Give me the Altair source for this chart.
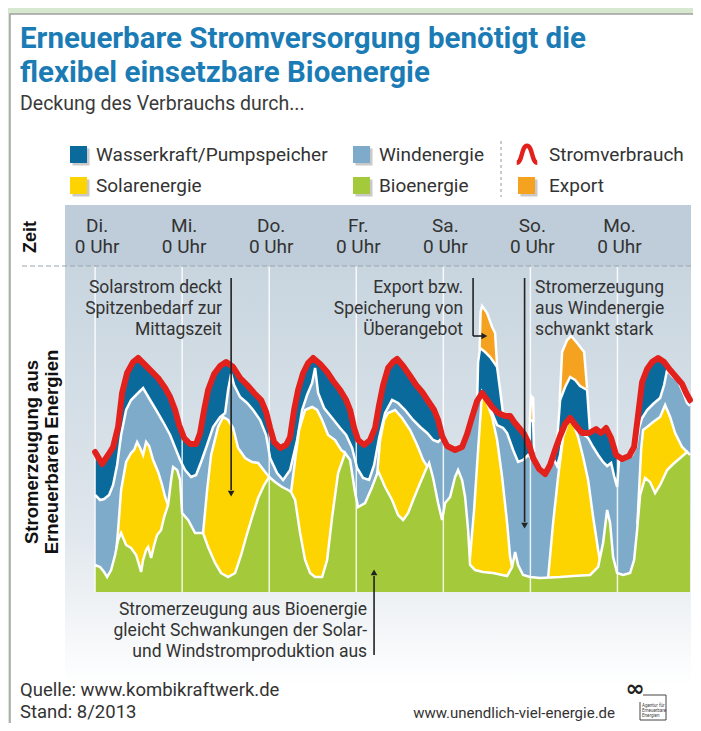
import altair as alt
import pandas as pd

# ---------------- data (hours since Tuesday 0:00, GW) ----------------
tage = ["Di.", "Mi.", "Do.", "Fr.", "Sa.", "So.", "Mo."]
tage_h = [0, 24, 48, 72, 96, 120, 144]

verbrauch_h = [0.0, 1.93, 3.58, 4.96, 6.34, 7.44, 8.82, 10.48, 11.85, 14.34, 17.37, 19.30, 20.68, 22.05, 23.16,
               24.54, 26.19, 27.84, 28.95, 30.05, 31.15, 32.81, 34.46, 36.11, 38.04, 39.97, 41.90, 43.83, 45.76,
               47.14, 48.24, 49.35, 51.0, 52.66, 53.76, 54.86, 55.96, 57.34, 58.72, 60.10, 62.03, 63.96, 65.61,
               67.54, 69.20, 70.30, 71.40, 72.50, 74.16, 75.81, 77.19, 78.29, 79.40, 80.77, 82.15, 83.26, 84.91,
               86.84, 88.49, 90.15, 91.80, 93.46, 94.56, 95.66, 97.04, 99.24, 101.17, 102.55, 103.93, 105.31,
               106.69, 108.07, 109.45, 111.10, 113.03, 114.41, 115.51, 116.89, 118.27, 119.37, 120.75, 122.40,
               124.06, 125.43, 126.81, 128.19, 129.57, 130.95, 132.60, 134.26, 136.19, 138.12, 139.49, 140.87,
               142.25, 143.63, 145.28, 147.21, 148.59, 149.69, 150.80, 152.18, 153.55, 155.21, 156.86, 158.52,
               160.17, 161.82, 162.93, 164.0]
verbrauch_gw = [35.0, 32.0, 34.25, 36.25, 41.25, 49.75, 54.75, 57.5, 58.5, 56.25, 53.5, 51.0, 48.75, 45.5, 41.75,
                38.5, 37.0, 37.0, 39.75, 45.5, 50.5, 54.5, 56.5, 57.5, 56.25, 53.5, 51.75, 49.75, 48.0,
                45.0, 41.0, 37.5, 36.0, 36.75, 38.75, 45.5, 50.5, 54.75, 57.25, 58.5, 57.0, 55.0, 52.75,
                50.5, 48.0, 45.5, 41.0, 38.0, 36.75, 38.0, 41.0, 46.75, 51.75, 56.0, 57.5, 58.25, 56.5,
                54.0, 51.75, 50.0, 47.75, 45.5, 43.0, 39.0, 36.5, 35.5, 36.25, 39.5, 43.75, 47.75,
                49.75, 48.0, 46.25, 44.75, 44.0, 44.0, 42.5, 41.0, 39.5, 37.5, 33.5, 30.75,
                29.5, 31.75, 35.5, 39.0, 42.0, 43.5, 41.5, 39.75, 39.75, 40.75, 39.75, 41.0,
                38.5, 34.25, 33.25, 34.0, 36.25, 44.25, 52.5, 55.75, 57.5, 58.5, 57.5, 55.5,
                53.75, 52.0, 49.75, 48.0]

# top of the wind layer (cumulative)
wind_h = [0.0, 1.38, 2.48, 3.86, 4.96, 6.07, 7.17, 8.55, 9.92, 11.85, 13.23, 15.16, 16.82, 18.75, 20.68, 22.33,
          23.43, 24.81, 26.47, 27.84, 29.22, 30.88, 32.53, 34.46, 35.84, 36.67, 37.49, 38.32, 39.97, 41.90,
          43.56, 45.49, 47.14, 48.24, 50.17, 51.83, 53.76, 55.69, 57.07, 58.44, 59.82, 60.65, 61.48, 63.13,
          65.34, 67.54, 69.20, 70.85, 72.23, 73.88, 75.54, 76.92, 78.29, 79.95, 81.88, 83.53, 85.46, 87.67,
          89.60, 91.53, 93.18, 94.56, 95.66, 97.04, 99.24, 101.17, 102.55, 103.93, 104.99, 105.58, 106.13,
          106.69, 108.07, 109.45, 110.82, 112.48, 113.58, 115.24, 116.61, 117.99, 119.37, 120.75, 122.40,
          124.06, 125.43, 126.54, 127.36, 128.19, 129.02, 130.40, 131.78, 133.15, 134.53, 135.91, 137.29,
          138.67, 140.04, 141.15, 142.25, 143.08, 143.91, 144.46, 146.11, 148.04, 149.14, 149.97, 150.80,
          152.18, 153.83, 155.76, 156.86, 157.69, 159.07, 160.72, 162.38, 163.20, 164.0]
wind_gw = [24.25, 23.0, 23.25, 24.25, 26.75, 31.75, 39.25, 45.5, 48.0, 49.75, 51.0, 48.0, 45.5, 42.5, 39.25, 35.5,
           33.0, 30.5, 28.75, 29.25, 32.5, 36.75, 41.25, 43.75, 44.75, 50.5, 54.5, 51.75, 48.75, 47.25,
           45.5, 43.0, 39.25, 33.5, 29.75, 28.0, 30.5, 38.0, 45.5, 49.25, 52.25, 56.0, 49.75, 46.0,
           43.5, 41.0, 39.25, 36.0, 31.0, 28.5, 28.0, 31.75, 38.5, 44.75, 48.0, 47.25, 45.5, 43.0,
           41.25, 39.75, 38.0, 37.5, 38.5, 36.5, 35.5, 36.25, 39.5, 43.75, 47.25, 48.0, 48.5,
           50.0, 48.0, 44.75, 41.75, 41.0, 39.75, 35.5, 32.5, 33.0, 34.25, 33.0, 30.75,
           29.5, 31.75, 33.0, 31.5, 34.25, 39.0, 43.0, 42.75, 40.5, 39.5, 38.5, 36.25,
           34.25, 32.5, 31.5, 32.25, 29.0, 26.25, 33.5, 33.25, 34.25, 36.25, 41.0, 43.5,
           45.5, 47.0, 48.5, 51.75, 55.5, 54.0, 52.75, 49.25, 47.25, 46.5]

# top of the bioenergy layer
bio_h = [0.0, 1.38, 2.48, 3.31, 4.41, 5.51, 6.34, 7.17, 8.55, 9.92, 11.30, 12.13, 12.68, 13.23, 14.06, 14.61,
         15.44, 16.27, 17.09, 18.19, 19.02, 20.12, 20.95, 21.50, 22.61, 23.43, 23.98, 25.64, 27.57, 29.77,
         31.15, 33.08, 34.74, 36.67, 38.60, 40.25, 41.63, 43.28, 44.94, 46.59, 47.97, 49.62, 51.55, 53.21,
         54.03, 55.14, 56.51, 57.89, 59.27, 60.65, 62.58, 63.96, 65.34, 66.99, 68.92, 70.30, 71.68, 72.50,
         74.43, 76.36, 78.02, 79.95, 81.88, 83.53, 84.91, 86.29, 87.67, 89.60, 91.25, 92.08, 93.18, 94.56,
         95.66, 96.49, 97.87, 99.24, 100.07, 101.17, 102.00, 102.83, 103.38, 104.76, 106.96, 109.72, 113.58,
         114.96, 115.79, 116.61, 117.99, 119.92, 122.68, 128.19, 131.78, 136.46, 138.67, 140.04, 141.15,
         141.97, 142.80, 143.91, 145.56, 147.48, 148.59, 149.42, 150.25, 151.63, 153.0, 154.38, 155.76,
         157.69, 159.35, 161.28, 163.20, 164.0]
bio_gw = [6.75, 6.25, 5.0, 3.75, 5.5, 9.25, 13.0, 14.75, 11.75, 11.0, 9.25, 6.75, 5.0, 8.0, 10.5, 11.25,
          8.5, 11.75, 14.25, 15.5, 18.75, 21.75, 28.0, 31.25, 30.5, 28.0, 19.75, 18.0, 14.75, 14.75,
          11.25, 7.25, 4.75, 3.75, 4.75, 9.25, 13.75, 18.75, 23.5, 26.75, 28.75, 27.5, 26.25, 25.5,
          25.0, 23.0, 14.75, 8.0, 4.75, 3.75, 3.75, 8.0, 18.75, 29.75, 34.75, 33.0, 24.75, 21.25,
          22.25, 26.25, 30.25, 26.25, 23.0, 19.25, 18.0, 19.75, 23.0, 27.25, 30.75, 32.25, 28.5, 22.25,
          18.0, 22.25, 23.75, 28.75, 30.5, 28.0, 23.75, 15.5, 6.75, 5.5, 5.0, 4.75, 4.0,
          6.25, 10.0, 6.75, 4.25, 3.75, 3.5, 3.75, 4.0, 4.25, 6.25, 12.25, 20.5,
          17.25, 8.75, 4.75, 4.25, 4.75, 8.0, 15.5, 24.25, 28.5, 27.5, 24.75, 26.75,
          30.5, 32.0, 33.5, 35.0, 34.25]

# top of the solar layer, one list per day
solar_h = [
    [5.79, 6.34, 7.17, 8.55, 9.92, 10.75, 11.58, 12.41, 13.23, 14.06, 14.89, 15.99, 17.37, 18.47, 19.30, 20.12],
    [29.77, 30.88, 31.98, 33.91, 35.29, 36.67, 38.04, 39.42, 41.35, 43.28, 44.94, 46.87, 48.24],
    [54.03, 55.14, 56.24, 57.89, 59.82, 61.20, 62.58, 64.23, 66.16, 67.82, 68.92],
    [77.74, 78.57, 79.67, 80.77, 82.70, 84.63, 86.84, 88.77, 90.42, 91.80],
    [103.10, 104.48, 105.58, 106.69, 108.07, 109.45, 110.82, 112.20, 113.58, 114.41, 114.96],
    [124.88, 126.26, 127.64, 129.02, 130.40, 131.78, 133.15, 134.53, 135.91, 137.29, 138.67, 139.77],
    [149.5, 150.52, 151.07, 152.18, 153.83, 155.76, 157.14, 158.52, 159.90, 161.82, 163.20, 164.0],
]
solar_gw = [
    [10.0, 15.5, 25.5, 32.5, 34.75, 35.5, 37.5, 36.0, 34.25, 37.5, 36.5, 33.0, 30.0, 26.75, 23.75, 21.75],
    [14.75, 25.5, 34.25, 41.25, 43.75, 43.0, 41.0, 36.0, 33.5, 32.5, 32.25, 30.0, 28.5],
    [25.0, 33.0, 40.5, 45.5, 46.25, 45.5, 43.0, 39.25, 38.0, 35.5, 34.75],
    [29.25, 38.0, 43.0, 44.75, 45.5, 43.5, 40.5, 36.75, 33.0, 31.0],
    [6.0, 20.5, 35.5, 49.75, 47.25, 43.75, 38.0, 28.75, 17.25, 8.75, 6.25],
    [3.5, 17.25, 28.75, 38.75, 42.5, 42.25, 38.75, 33.75, 28.0, 18.75, 10.5, 5.0],
    [17.0, 35.5, 40.5, 41.25, 42.5, 43.75, 46.75, 43.75, 39.75, 36.25, 35.0, 34.25],
]

# hydro / pumped storage where it rises above consumption
wasser_h = [
    [105.31, 105.58, 106.13, 107.51, 108.89, 110.27, 110.82, 111.65, 112.48],
    [119.65, 119.92, 120.75, 121.02],
    [126.54, 127.36, 128.19, 129.57, 130.95, 132.33, 133.70, 135.63, 136.46],
]
wasser_gw = [
    [47.75, 57.5, 61.0, 60.0, 58.75, 57.0, 56.25, 50.5, 44.5],
    [37.25, 43.0, 42.75, 35.0],
    [33.5, 38.0, 48.0, 51.25, 53.75, 53.0, 51.5, 50.5, 39.75],
]

# export peaks (top of the whole stack)
export_h = [
    [105.99, 106.27, 106.69, 108.07, 109.45, 110.27, 110.82],
    [119.87, 120.20, 120.75, 120.89],
    [128.05, 128.74, 130.12, 131.23, 132.88, 134.81, 135.63],
]
export_gw = [
    [60.75, 70.0, 71.5, 69.75, 66.25, 64.75, 56.5],
    [42.75, 49.0, 48.5, 42.5],
    [47.5, 60.0, 63.0, 64.0, 62.25, 60.0, 51.0],
]

# ---------------- styling ----------------
C_WASSER = "#0b6a9c"
C_WIND = "#7eabca"
C_SOLAR = "#fdd300"
C_BIO = "#a4c93a"
C_EXPORT = "#f4a21f"
C_ROT = "#e3211c"
C_TXT = "#333333"
FONT = "Roboto"
WL = 2.5  # white separator width

OX, OY = 65, 205  # page position of the plot origin


def px(x):
    return x - OX


def py(y):
    return y - OY


xs = alt.Scale(domain=[-8.3, 164.0], nice=False, zero=False)
ys = alt.Scale(domain=[0, 96.75], nice=False, zero=True)


def XE():
    return alt.X("h:Q", scale=xs, axis=None)


def YE():
    return alt.Y("gw:Q", scale=ys, axis=None, stack=None)


one = pd.DataFrame({"k": [0]})


def seg_df(hs, vs):
    rows = []
    for i, (hh, vv) in enumerate(zip(hs, vs)):
        for a, b in zip(hh, vv):
            rows.append({"seg": i, "h": a, "gw": b})
    return pd.DataFrame(rows)


verbrauch_df = pd.DataFrame({"h": verbrauch_h, "gw": verbrauch_gw})
wind_df = pd.DataFrame({"h": wind_h, "gw": wind_gw})
bio_df = pd.DataFrame({"h": bio_h, "gw": bio_gw})
solar_df = seg_df(solar_h, solar_gw)
wasser_df = seg_df(wasser_h, wasser_gw)
export_df = seg_df(export_h, export_gw)
tage_df = pd.DataFrame({"h": tage_h, "lab": [t + "\n0 Uhr" for t in tage]})


def rect(x1, y1, x2, y2, **kw):
    return alt.Chart(one).mark_rect(**kw).encode(
        x=alt.value(px(x1)), x2=alt.value(px(x2)), y=alt.value(py(y1)), y2=alt.value(py(y2)))


def text(x, y, s, **kw):
    return alt.Chart(one).mark_text(**kw).encode(
        x=alt.value(px(x)), y=alt.value(py(y)), text=alt.value(s))


def dtext(h, gw, s, **kw):
    d = pd.DataFrame({"h": [h], "gw": [gw], "t": [s]})
    return alt.Chart(d).mark_text(**kw).encode(x=XE(), y=YE(), text="t:N")


def vrule(h, g1, g2):
    d = pd.DataFrame({"h": [h], "gw": [g1], "gw2": [g2]})
    return alt.Chart(d).mark_rule(color="#222222", strokeWidth=1.6).encode(x=XE(), y=YE(), y2="gw2:Q")


def hrule(h1, h2, g):
    d = pd.DataFrame({"h": [h1], "h2": [h2], "gw": [g]})
    return alt.Chart(d).mark_rule(color="#222222", strokeWidth=1.6).encode(x=XE(), x2="h2:Q", y=YE())


def head(h, g, shape):
    d = pd.DataFrame({"h": [h], "gw": [g]})
    return alt.Chart(d).mark_point(shape=shape, filled=True, size=45, color="#222222", opacity=1).encode(
        x=XE(), y=YE())


layers = []

# panel + backgrounds
layers.append(rect(10, 14, 712, 745, fill="white", stroke="#a0a0a0", strokeWidth=1.5))
layers.append(rect(65, 205, 691, 266, fill="#becdd9"))
layers.append(rect(65, 266, 691, 686, fill=alt.LinearGradient(
    gradient="linear",
    stops=[alt.GradientStop(color="#c8d5df", offset=0),
           alt.GradientStop(color="#dfe6ec", offset=0.62),
           alt.GradientStop(color="#ffffff", offset=1)],
    x1=0, x2=0, y1=0, y2=1)))
layers.append(alt.Chart(one).mark_rule(color="#9aa3ab", strokeDash=[5, 3], strokeWidth=1.2).encode(
    x=alt.value(px(22)), x2=alt.value(px(691)), y=alt.value(py(266))))

# stacked generation (drawn top layer first, each from zero)
layers.append(alt.Chart(export_df).mark_area(color=C_EXPORT).encode(x=XE(), y=YE(), detail="seg:N"))
layers.append(alt.Chart(export_df).mark_line(color="white", strokeWidth=WL).encode(x=XE(), y=YE(), detail="seg:N"))
layers.append(alt.Chart(verbrauch_df).mark_area(color=C_WASSER).encode(x=XE(), y=YE()))
layers.append(alt.Chart(wasser_df).mark_area(color=C_WASSER).encode(x=XE(), y=YE(), detail="seg:N"))
layers.append(alt.Chart(wasser_df).mark_line(color="white", strokeWidth=WL).encode(x=XE(), y=YE(), detail="seg:N"))
layers.append(alt.Chart(wind_df).mark_area(color=C_WIND).encode(x=XE(), y=YE()))
layers.append(alt.Chart(wind_df).mark_line(color="white", strokeWidth=WL).encode(x=XE(), y=YE()))
layers.append(alt.Chart(solar_df).mark_area(color=C_SOLAR).encode(x=XE(), y=YE(), detail="seg:N"))
layers.append(alt.Chart(solar_df).mark_line(color="white", strokeWidth=WL).encode(x=XE(), y=YE(), detail="seg:N"))
layers.append(alt.Chart(bio_df).mark_area(color=C_BIO).encode(x=XE(), y=YE()))
layers.append(alt.Chart(bio_df).mark_line(color="white", strokeWidth=WL).encode(x=XE(), y=YE()))

# day lines
layers.append(alt.Chart(tage_df).mark_rule(color="white", strokeWidth=1.5, opacity=0.85).encode(
    x=XE(), y=alt.value(py(267)), y2=alt.value(py(592))))

# consumption
layers.append(alt.Chart(verbrauch_df).mark_line(color=C_ROT, strokeWidth=6, strokeJoin="round",
                                                strokeCap="round").encode(x=XE(), y=YE()))

# day labels
layers.append(alt.Chart(tage_df).mark_text(font=FONT, fontSize=19, color=C_TXT, lineBreak="\n", lineHeight=21,
                                           align="center", baseline="alphabetic", dx=2).encode(
    x=XE(), y=alt.value(py(232)), text="lab:N"))

# annotations
ann = dict(font=FONT, fontSize=17.5, color=C_TXT, lineBreak="\n", lineHeight=21, baseline="alphabetic")
layers.append(dtext(35.0, 74.75, "Solarstrom deckt\nSpitzenbedarf zur\nMittagszeit", align="right", **ann))
layers.append(vrule(37.5, 78.5, 25.5))
layers.append(head(37.5, 24.6, "triangle-down"))
layers.append(dtext(101.45, 74.75, "Export bzw.\nSpeicherung von\nÜberangebot", align="right", **ann))
layers.append(vrule(104.2, 78.5, 64.0))
layers.append(hrule(104.2, 106.9, 64.0))
layers.append(head(107.3, 64.0, "triangle-right"))
layers.append(dtext(121.3, 74.75, "Stromerzeugung\naus Windenergie\nschwankt stark", align="left", **ann))
layers.append(vrule(118.4, 78.5, 17.5))
layers.append(head(118.4, 16.6, "triangle-down"))
layers.append(dtext(75.0, -5.75, "Stromerzeugung aus Bioenergie\ngleicht Schwankungen der Solar-\nund  Windstromproduktion aus",
                    align="right", **ann))
layers.append(vrule(76.9, -15.75, 4.0))
layers.append(head(76.9, 4.9, "triangle-up"))

# axis-like titles
layers.append(text(31, 237, "Zeit", font="Liberation Sans", fontSize=18, fontWeight="bold", color="#111111",
                   angle=270, align="center", baseline="middle"))
layers.append(text(32, 452, "Stromerzeugung aus", font="Liberation Sans", fontSize=18.5, fontWeight="bold",
                   color="#111111", angle=270, align="center", baseline="middle"))
layers.append(text(52, 452, "Erneuerbaren Energien", font="Liberation Sans", fontSize=18.5, fontWeight="bold",
                   color="#111111", angle=270, align="center", baseline="middle"))

# title block
layers.append(text(20, 48, "Erneuerbare Stromversorgung benötigt die\nflexibel einsetzbare Bioenergie", font=FONT,
                   fontSize=29.5, fontWeight="bold", color="#1b7cb5", lineBreak="\n", lineHeight=34,
                   align="left", baseline="alphabetic"))
layers.append(text(20, 110, "Deckung des Verbrauchs durch...", font=FONT, fontSize=19.5, color="#3a3a3a",
                   align="left", baseline="alphabetic"))


# legend
def swatch(x, y, col):
    return [rect(x + 2.5, y + 2.5, x + 19.5, y + 19.5, fill="#c9c9c9"),
            rect(x, y, x + 17, y + 17, fill=col)]


leg = dict(font=FONT, fontSize=19, color=C_TXT, align="left", baseline="alphabetic")
layers += swatch(70, 146, C_WASSER)
layers.append(text(96, 161, "Wasserkraft/Pumpspeicher", **leg))
layers += swatch(70, 177, C_SOLAR)
layers.append(text(96, 192, "Solarenergie", **leg))
layers += swatch(353, 146, C_WIND)
layers.append(text(379, 161, "Windenergie", **leg))
layers += swatch(353, 177, C_BIO)
layers.append(text(379, 192, "Bioenergie", **leg))
layers += swatch(518, 177, C_EXPORT)
layers.append(text(549, 192, "Export", **leg))
layers.append(alt.Chart(one).mark_point(
    shape="M -1 0.85 C -0.45 0.85 -0.55 -0.8 0 -0.8 C 0.55 -0.8 0.45 0.85 1 0.85",
    filled=False, color=C_ROT, strokeWidth=4.5, size=420, opacity=1).encode(
    x=alt.value(px(527)), y=alt.value(py(154))))
layers.append(text(549, 161, "Stromverbrauch", **leg))
layers.append(alt.Chart(one).mark_rule(color="#a8a8a8", strokeDash=[3, 3], strokeWidth=1.2).encode(
    x=alt.value(px(501)), y=alt.value(py(141)), y2=alt.value(py(197))))

# footer
layers.append(text(20, 696, "Quelle: www.kombikraftwerk.de", font=FONT, fontSize=18.5, color=C_TXT,
                   align="left", baseline="alphabetic"))
layers.append(text(20, 718, "Stand: 8/2013", font=FONT, fontSize=18.5, color=C_TXT,
                   align="left", baseline="alphabetic"))
layers.append(text(615, 718, "www.unendlich-viel-energie.de", font=FONT, fontSize=15, color=C_TXT,
                   align="right", baseline="alphabetic"))
# logo
layers.append(text(635, 689, "∞", font="DejaVu Sans", fontSize=23, fontWeight="bold", color="#222222",
                   align="center", baseline="middle"))
for (a, b, c, d) in [(643, 695, 666, 695), (666, 695, 666, 720), (640, 720, 666, 720), (640, 702, 640, 720)]:
    layers.append(alt.Chart(one).mark_rule(color="#444444", strokeWidth=1).encode(
        x=alt.value(px(a)), x2=alt.value(px(c)), y=alt.value(py(b)), y2=alt.value(py(d))))
layers.append(text(642, 707, "Agentur für\nErneuerbare\nEnergien", font=FONT, fontSize=4.5, color="#444444",
                   lineBreak="\n", lineHeight=5.2, align="left", baseline="alphabetic"))

chart = alt.layer(*layers).properties(
    width=625, height=387,
    padding={"left": 57, "top": 197, "right": 3, "bottom": 131},
    autosize=alt.AutoSizeParams(type="none"),
    background="#d6e8cf",
).configure_view(stroke=None)

chart.save("out.html", embed_options={"renderer": "svg", "actions": False})
